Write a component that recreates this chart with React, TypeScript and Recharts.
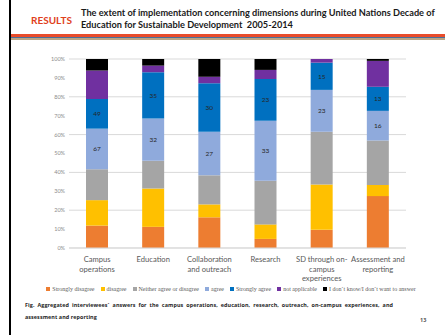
import React from "react";
import { BarChart, Bar, XAxis, YAxis, CartesianGrid, LabelList } from "recharts";

const categories = [
  "Campus\noperations",
  "Education",
  "Collaboration\nand outreach",
  "Research",
  "SD through on-\ncampus\nexperiences",
  "Assessment and\nreporting",
];

// answer counts per category (shown as 100% stacked)
const stronglyDisagree = [37, 16, 19, 5, 10, 28];
const disagree = [42, 29, 8, 8, 25, 6];
const neither = [51, 21, 18, 24, 29, 24];
const agree = [67, 32, 27, 33, 23, 16];
const stronglyAgree = [49, 35, 30, 23, 15, 13];
const notApplicable = [47, 5, 4, 5, 2, 14];
const dontKnow = [19, 5, 11, 6, 0, 1];

const yTicks = [0, 0.1, 0.2, 0.3, 0.4, 0.5, 0.6, 0.7, 0.8, 0.9, 1];

const series = [
  { key: "sd", name: "Strongly disagree", color: "#ED7D31", values: stronglyDisagree },
  { key: "d", name: "disagree", color: "#FFC000", values: disagree },
  { key: "n", name: "Neither agree or disagree", color: "#A5A5A5", values: neither },
  { key: "a", name: "agree", color: "#8FAADC", values: agree },
  { key: "sa", name: "Strongly agree", color: "#0070C0", values: stronglyAgree },
  { key: "na", name: "not applicable", color: "#7030A0", values: notApplicable },
  { key: "dk", name: "I don`t know/I don`t  want to answer", color: "#000000", values: dontKnow },
];

const data = categories.map((name, i) => {
  const row: Record<string, any> = { name };
  series.forEach((s) => (row[s.key] = s.values[i]));
  return row;
});

const CategoryTick = (props: any) => {
  const { x, y, payload } = props;
  const lines = String(payload.value).split("\n");
  return (
    <text x={x} y={y} textAnchor="middle" fill="#595959" fontSize={7.6} fontFamily="Lato, sans-serif">
      {lines.map((l, i) => (
        <tspan key={i} x={x} dy={i === 0 ? 6 : 9.7}>
          {l}
        </tspan>
      ))}
    </text>
  );
};

export default function App() {
  return (
    <div style={{ position: "fixed", left: 0, top: 0, width: 445, height: 335, background: "#fff", overflow: "hidden" }}>
      <div style={{ position: "absolute", left: 9, top: 0, width: 2, height: 335, background: "#000" }} />
      <div
        style={{
          position: "absolute",
          left: 31,
          top: 14,
          fontFamily: "Lato, sans-serif",
          fontWeight: 700,
          fontSize: 10,
          color: "#E0401C",
        }}
      >
        RESULTS
      </div>
      <div
        style={{
          position: "absolute",
          left: 81,
          top: 7,
          fontFamily: "Lato, sans-serif",
          fontWeight: 700,
          fontSize: 9.2,
          lineHeight: "11.5px",
          color: "#1a1a1a",
          whiteSpace: "nowrap",
        }}
      >
        The extent of implementation concerning dimensions during United Nations Decade of
        <br />
        Education for Sustainable Development&nbsp; 2005-2014
      </div>
      <div style={{ position: "absolute", left: 11, top: 34, width: 434, height: 3.3, background: "#E84C2B" }} />
      <div style={{ position: "absolute", left: 11, top: 37.3, width: 434, height: 1, background: "#4A6F9A" }} />
      <div style={{ position: "absolute", left: 11, top: 38.3, width: 434, height: 1.7, background: "#B9A585" }} />

      <div style={{ position: "absolute", left: 0, top: 0 }}>
        <BarChart
          width={445}
          height={335}
          data={data}
          stackOffset="expand"
          barSize={22}
          margin={{ top: 59, right: 39, bottom: 47, left: 0 }}
        >
          <CartesianGrid vertical={false} stroke="#D9D9D9" />
          <XAxis
            dataKey="name"
            height={40}
            axisLine={{ stroke: "#D9D9D9" }}
            tickLine={false}
            tick={<CategoryTick />}
            interval={0}
          />
          <YAxis
            width={69}
            domain={[0, 1]}
            ticks={yTicks}
            tickFormatter={(v: number) => `${Math.round(v * 100)}%`}
            axisLine={false}
            tickLine={false}
            tickSize={4}
            tickMargin={0}
            tick={{ fontSize: 5.5, fill: "#8C8C8C", fontFamily: "Lato, sans-serif" }}
          />
          {series.map((s) => (
            <Bar key={s.key} dataKey={s.key} name={s.name} stackId="a" fill={s.color} isAnimationActive={false}>
              {(s.key === "a" || s.key === "sa") && (
                <LabelList dataKey={s.key} position="center" fontSize={6.5} fill="#262626" fontFamily="Lato, sans-serif" />
              )}
            </Bar>
          ))}
        </BarChart>
      </div>

      <div
        style={{
          position: "absolute",
          left: 0,
          width: 462,
          top: 286,
          display: "flex",
          justifyContent: "center",
          gap: 6,
          fontFamily: "'Liberation Serif', serif",
          fontSize: 6,
          color: "#595959",
          whiteSpace: "nowrap",
        }}
      >
        {series.map((s) => (
          <span key={s.key} style={{ display: "flex", alignItems: "center" }}>
            <span style={{ display: "inline-block", width: 4, height: 4, background: s.color, marginRight: 2 }} />
            {s.name}
          </span>
        ))}
      </div>

      <div
        style={{
          position: "absolute",
          left: 25,
          top: 299,
          fontFamily: "'Open Sans', sans-serif",
          fontWeight: 700,
          fontSize: 5.4,
          lineHeight: "12px",
          color: "#262626",
          whiteSpace: "nowrap",
          letterSpacing: 0.08,
        }}
      >
        Fig.&nbsp; Aggregated&nbsp; interviewees`&nbsp; answers&nbsp; for&nbsp; the&nbsp; campus&nbsp; operations,&nbsp; education,&nbsp; research,&nbsp; outreach,&nbsp; on-campus&nbsp; experiences,&nbsp; and
        <br />
        assessment and reporting
      </div>
      <div
        style={{
          position: "absolute",
          left: 420,
          top: 316,
          fontFamily: "'Open Sans', sans-serif",
          fontWeight: 700,
          fontSize: 5.5,
          color: "#595959",
        }}
      >
        13
      </div>
    </div>
  );
}
